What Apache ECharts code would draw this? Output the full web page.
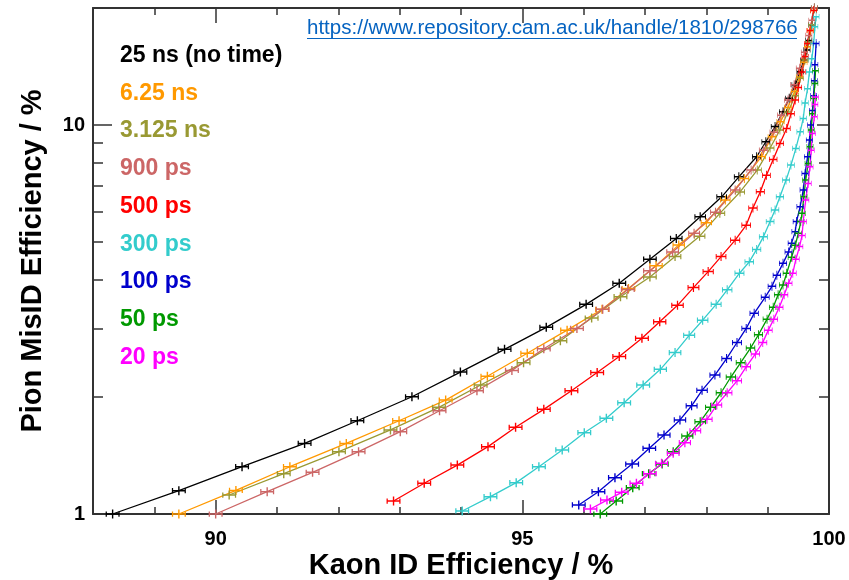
<!DOCTYPE html>
<html>
<head>
<meta charset="utf-8">
<script src="https://cdn.jsdelivr.net/npm/echarts@6/dist/echarts.min.js"></script>
<style>
  html, body { margin: 0; background: #fff; }
  #chart { width: 849px; height: 580px; }
</style>
</head>
<body>
<div id="chart"></div>
<script>
// series names + colours (legend order)
const names = ['25 ns (no time)', '6.25 ns', '3.125 ns', '900 ps', '500 ps', '300 ps', '100 ps', '50 ps', '20 ps'];
const colors = ['#000000', '#ff9900', '#999933', '#cc6666', '#ff0000', '#33cccc', '#0000cc', '#009900', '#ff00ff'];

// kaon eff (x, %) and pion misID eff (y, %)
const ns25X = [88.32, 89.40, 90.43, 91.45, 92.31, 93.20, 93.99, 94.71, 95.39, 96.04, 96.58, 97.08, 97.51, 97.90, 98.25, 98.53, 98.82, 98.97, 99.12, 99.25, 99.35, 99.45, 99.53, 99.59, 99.64, 99.67, 99.72, 99.76];
const ns25Y = [1.00, 1.148, 1.323, 1.519, 1.737, 2.002, 2.317, 2.651, 3.02, 3.46, 3.92, 4.52, 5.11, 5.81, 6.54, 7.36, 8.29, 9.06, 9.91, 10.82, 11.72, 12.68, 13.71, 14.69, 15.6, 16.5, 18.1, 20];

const ns625X = [89.40, 90.33, 91.21, 92.13, 92.99, 93.75, 94.43, 95.08, 95.73, 96.30, 96.73, 97.18, 97.55, 98.00, 98.31, 98.62, 98.90, 99.07, 99.21, 99.33, 99.44, 99.52, 99.59, 99.65, 99.70, 99.75];
const ns625Y = [1.00, 1.15, 1.323, 1.519, 1.737, 1.963, 2.26, 2.59, 2.97, 3.36, 3.80, 4.35, 4.92, 5.61, 6.42, 7.29, 8.3, 9.33, 10.2, 11.1, 12.2, 13.3, 14.5, 15.9, 17.5, 19.7];

const ns3125X = [90.22, 91.11, 92.01, 92.85, 93.64, 94.32, 95.02, 95.62, 96.13, 96.60, 97.08, 97.49, 97.89, 98.22, 98.55, 98.83, 99.04, 99.20, 99.33, 99.45, 99.53, 99.61, 99.67, 99.72, 99.76];
const ns3125Y = [1.119, 1.27, 1.446, 1.645, 1.88, 2.146, 2.45, 2.79, 3.19, 3.62, 4.07, 4.59, 5.18, 5.93, 6.73, 7.66, 8.73, 9.71, 10.8, 11.9, 13.2, 14.7, 16.3, 18.1, 20];

const ps900X = [90.0, 90.84, 91.58, 92.33, 93.01, 93.65, 94.26, 94.83, 95.35, 95.89, 96.31, 96.72, 97.08, 97.45, 97.80, 98.15, 98.47, 98.73, 98.93, 99.10, 99.22, 99.33, 99.43, 99.52, 99.60, 99.67, 99.72, 99.76];
const ps900Y = [1.0, 1.141, 1.28, 1.446, 1.628, 1.843, 2.075, 2.34, 2.66, 3.0, 3.36, 3.78, 4.22, 4.72, 5.27, 5.97, 6.81, 7.66, 8.62, 9.59, 10.6, 11.6, 12.7, 14.0, 15.4, 17.0, 18.6, 20];

const ps500X = [92.90, 93.40, 93.94, 94.44, 94.89, 95.35, 95.80, 96.22, 96.58, 96.95, 97.24, 97.53, 97.79, 98.03, 98.24, 98.47, 98.65, 98.76, 98.88, 98.98, 99.09, 99.20, 99.31, 99.38, 99.45, 99.50, 99.56, 99.61, 99.65, 99.69, 99.75];
const ps500Y = [1.08, 1.20, 1.336, 1.49, 1.671, 1.858, 2.075, 2.31, 2.54, 2.83, 3.12, 3.44, 3.82, 4.20, 4.59, 5.06, 5.53, 6.12, 6.74, 7.43, 8.16, 8.97, 9.80, 10.7, 11.6, 12.5, 13.7, 15.0, 16.2, 17.5, 19.7];

const ps300X = [94.02, 94.48, 94.90, 95.27, 95.65, 96.01, 96.37, 96.66, 96.97, 97.25, 97.49, 97.72, 97.94, 98.16, 98.34, 98.54, 98.70, 98.82, 98.93, 99.04, 99.12, 99.20, 99.30, 99.38, 99.46, 99.53, 99.58, 99.61, 99.65, 99.68, 99.72, 99.75, 99.77, 99.79];
const ps300Y = [1.018, 1.108, 1.204, 1.323, 1.461, 1.618, 1.762, 1.932, 2.146, 2.355, 2.60, 2.88, 3.15, 3.46, 3.77, 4.16, 4.45, 4.79, 5.16, 5.65, 6.05, 6.54, 7.22, 7.89, 8.71, 9.61, 10.4, 11.4, 12.4, 13.7, 14.8, 16.2, 17.9, 19.0];

const ps100X = [95.92, 96.24, 96.51, 96.79, 97.07, 97.31, 97.57, 97.76, 97.93, 98.14, 98.33, 98.50, 98.65, 98.78, 98.96, 99.07, 99.15, 99.25, 99.34, 99.39, 99.45, 99.47, 99.53, 99.58, 99.61, 99.65, 99.68, 99.70, 99.73, 99.75, 99.76, 99.77, 99.79];
const ps100Y = [1.055, 1.141, 1.24, 1.344, 1.475, 1.596, 1.745, 1.898, 2.08, 2.276, 2.51, 2.76, 3.0, 3.28, 3.61, 3.85, 4.11, 4.41, 4.72, 4.97, 5.32, 5.65, 6.17, 6.81, 7.51, 8.29, 9.15, 10.0, 10.9, 11.9, 13.0, 14.3, 16.2];

const ps50X = [96.27, 96.53, 96.80, 97.06, 97.28, 97.46, 97.69, 97.90, 98.07, 98.24, 98.40, 98.56, 98.72, 98.85, 98.99, 99.09, 99.17, 99.25, 99.31, 99.39, 99.45, 99.50, 99.54, 99.56, 99.59, 99.62, 99.66, 99.69, 99.71, 99.73, 99.75, 99.77, 99.78];
const ps50Y = [1.0, 1.08, 1.169, 1.27, 1.344, 1.446, 1.586, 1.727, 1.88, 2.05, 2.25, 2.45, 2.67, 2.89, 3.17, 3.40, 3.66, 3.88, 4.16, 4.57, 4.91, 5.27, 5.65, 5.93, 6.54, 7.22, 7.97, 8.80, 9.71, 10.7, 11.7, 12.8, 13.8];

const ps20X = [96.11, 96.38, 96.62, 96.86, 97.08, 97.27, 97.46, 97.65, 97.82, 98.01, 98.17, 98.34, 98.50, 98.65, 98.80, 98.92, 99.01, 99.10, 99.19, 99.27, 99.34, 99.41, 99.46, 99.52, 99.56, 99.58, 99.62, 99.66, 99.69, 99.71, 99.73, 99.76, 99.77, 99.78];
const ps20Y = [1.03, 1.086, 1.137, 1.20, 1.27, 1.35, 1.432, 1.525, 1.637, 1.752, 1.906, 2.05, 2.20, 2.39, 2.58, 2.76, 2.97, 3.17, 3.40, 3.66, 3.92, 4.16, 4.52, 4.87, 5.2, 5.65, 6.42, 7.08, 7.81, 8.62, 9.52, 10.5, 11.3, 11.8];

// tick values
const xMajor = [90, 95, 100];
const xMinor = [89, 91, 92, 93, 94, 96, 97, 98, 99];
const yMajor = [1, 10];
const yMinor = [2, 3, 4, 5, 6, 7, 8, 9, 20];

const allX = [ns25X, ns625X, ns3125X, ps900X, ps500X, ps300X, ps100X, ps50X, ps20X];
const allY = [ns25Y, ns625Y, ns3125Y, ps900Y, ps500Y, ps300Y, ps100Y, ps50Y, ps20Y];

const FONT = 'Liberation Sans';
const frame = { color: '#333', width: 2 };

// "+" marker with horizontal error bar and end caps
const errSymbol = 'path://M0,5.0H20V7.0H0Z M9.0,0H11.0V12H9.0Z M0,2.5H1.8V9.5H0Z M18.2,2.5H20V9.5H18.2Z';

function xAx(pos, ticks, len, line, label) {
  return {
    type: 'value', min: 88, max: 100, position: pos,
    axisLine: { show: line, onZero: false, lineStyle: frame },
    axisTick: { inside: true, length: len, customValues: ticks, lineStyle: { color: '#333', width: 1.5 } },
    axisLabel: label ? { customValues: ticks, margin: 15, fontFamily: FONT, fontWeight: 'bold', fontSize: 20, color: '#000' } : { show: false },
    splitLine: { show: false }
  };
}
function yAx(pos, ticks, len, line, label) {
  return {
    type: 'log', logBase: 10, min: 1, max: 20, position: pos,
    axisLine: { show: line, onZero: false, lineStyle: frame },
    axisTick: { inside: true, length: len, customValues: ticks, lineStyle: { color: '#333', width: 1.5 } },
    axisLabel: label ? { customValues: ticks, margin: 8, fontFamily: FONT, fontWeight: 'bold', fontSize: 20, color: '#000' } : { show: false },
    splitLine: { show: false }
  };
}

const xAxes = [
  xAx('bottom', xMajor, 14, true, true),
  xAx('bottom', xMinor, 7, false, false),
  xAx('top', xMajor, 15, true, false),
  xAx('top', xMinor, 7, false, false)
];
Object.assign(xAxes[0], {
  name: 'Kaon ID Efficiency / %', nameLocation: 'middle', nameGap: 37, nameMoveOverlap: false,
  nameTextStyle: { fontFamily: FONT, fontWeight: 'bold', fontSize: 29, color: '#000' }
});
const yAxes = [
  yAx('left', yMajor, 19, true, true),
  yAx('left', yMinor, 10, false, false),
  yAx('right', yMajor, 12, true, false),
  yAx('right', yMinor, 10, false, false)
];
Object.assign(yAxes[0], {
  name: 'Pion MisID Efficiency / %', nameLocation: 'middle', nameGap: 46, nameRotate: 90, nameMoveOverlap: false,
  nameTextStyle: { fontFamily: FONT, fontWeight: 'bold', fontSize: 29, color: '#000' }
});

const series = names.map((n, i) => ({
  name: n,
  type: 'line',
  xAxisIndex: 0,
  yAxisIndex: 0,
  data: allX[i].map((x, j) => [x, allY[i][j]]),
  symbol: errSymbol,
  symbolSize: function (v) {
    const w = 6 + 8 * Math.min(1, (100 - v[0]) / 3);
    return [w, 9];
  },
  showAllSymbol: true,
  lineStyle: { color: colors[i], width: 1.3 },
  itemStyle: { color: colors[i] },
  clip: true,
  animation: false
}));

const chart = echarts.init(document.getElementById('chart'));
chart.setOption({
  animation: false,
  grid: { left: 93, right: 20, top: 8, bottom: 66, outerBoundsMode: 'none' },
  xAxis: xAxes,
  yAxis: yAxes,
  legend: {
    orient: 'vertical', left: 110, top: 39,
    itemWidth: 0, itemHeight: 0, itemGap: 14.75, icon: 'rect',
    selectedMode: false,
    textStyle: { fontFamily: FONT, fontWeight: 'bold', fontSize: 23, lineHeight: 23 },
    data: names.map((n, i) => ({ name: n, textStyle: { color: colors[i] } }))
  },
  graphic: [
    {
      type: 'text', left: 307, top: 18,
      style: { text: 'https://www.repository.cam.ac.uk/handle/1810/298766', fill: '#0563c1', font: '20.5px "Liberation Sans"' }
    },
    {
      type: 'line', shape: { x1: 307, y1: 38.5, x2: 797, y2: 38.5 },
      style: { stroke: '#0563c1', lineWidth: 1.2 }
    }
  ],
  series: series
});
</script>
</body>
</html>
